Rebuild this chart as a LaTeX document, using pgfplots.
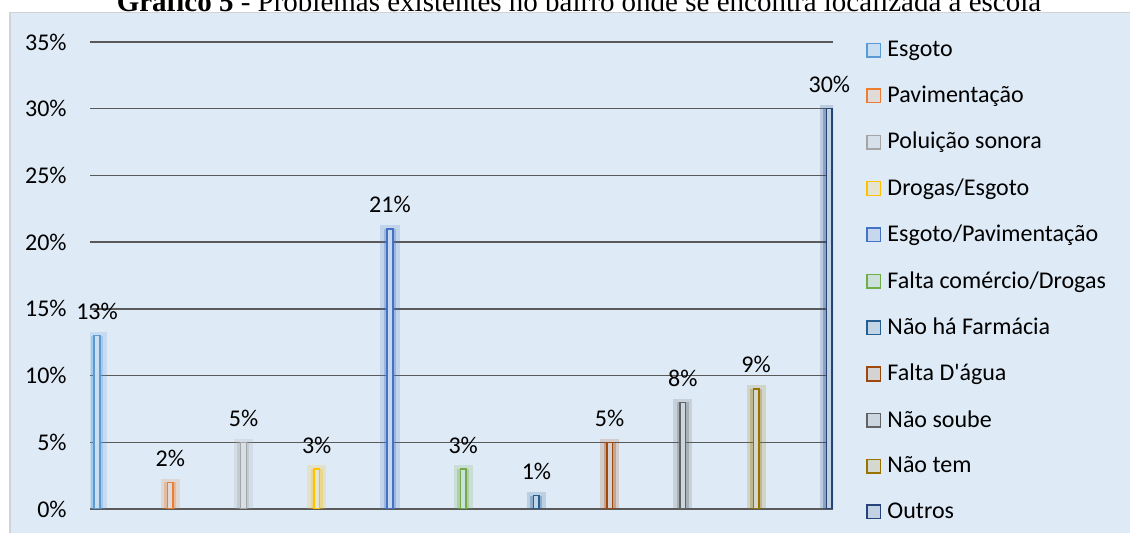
\documentclass[border=0pt]{standalone}
\usepackage{fontspec}
\setmainfont{Carlito}[Ligatures=TeXOff]
\newfontfamily\titlefont{Liberation Serif}
\usepackage{pgfplots}
\pgfplotsset{compat=1.18}

\definecolor{panel}{HTML}{DEEAF6}
\definecolor{panelborder}{HTML}{D0D4D9}
\definecolor{gridc}{HTML}{5A5A5A}
\definecolor{cA}{HTML}{5B9BD5}
\definecolor{cB}{HTML}{ED7D31}
\definecolor{cC}{HTML}{A5A5A5}
\definecolor{cD}{HTML}{FFC000}
\definecolor{cE}{HTML}{4472C4}
\definecolor{cF}{HTML}{70AD47}
\definecolor{cG}{HTML}{255E91}
\definecolor{cH}{HTML}{9E480E}
\definecolor{cI}{HTML}{636363}
\definecolor{cJ}{HTML}{997300}
\definecolor{cK}{HTML}{264478}

\pgfplotsset{
  barglow/.style={ybar, bar shift=0pt, bar width=6pt, fill opacity=0.3,
    draw opacity=0.18, line width=3.6pt, forget plot},
  barthin/.style={ybar, bar shift=0pt, bar width=2.8pt, line width=0.75pt,
    nodes near coords={\pgfmathprintnumber{\pgfplotspointmeta}\%},
    every node near coord/.append style={anchor=south, font=\fontsize{12}{14}\selectfont,
      text=black, inner sep=0pt, yshift=7.5pt},
    legend image code/.code={\draw[##1, line width=0.75pt]
      (0pt,-3.4pt) rectangle (6.8pt,3.4pt);}},
}

\begin{document}
\begin{tikzpicture}
% chart panel
\fill[panel] (-40pt,-20pt) rectangle (530pt,248.2pt);
\draw[panelborder, line width=0.8pt] (-40pt,-20pt) -- (-40pt,248.2pt) -- (530pt,248.2pt);
\node[anchor=base, font=\titlefont\fontsize{14.5}{16}\selectfont] at (244.5pt,248.9pt)
  {\textbf{Gráfico 5} - Problemas existentes no bairro onde se encontra localizada a escola};

\begin{axis}[
  at={(0pt,0pt)}, anchor=south west,
  scale only axis, width=371.5pt, height=233.5pt,
  xmin=-0.096, xmax=10.05, ymin=0, ymax=35,
  enlargelimits=false,
  xtick=\empty,
  ytick={0,5,...,35},
  yticklabel={\pgfmathprintnumber{\tick}\%},
  /pgf/number format/assume math mode=true,
  yticklabel style={font=\fontsize{12}{14}\selectfont, inner xsep=0pt, xshift=-11.5pt},
  ymajorgrids,
  major grid style={draw=gridc, line width=0.75pt},
  axis line style={draw=none},
  tick style={draw=none},
  legend style={at={(axis description cs:1.0444,1.003)}, anchor=north west,
    draw=none, fill=none, inner sep=0pt, row sep=13.35pt,
    font=\fontsize{12}{14}\selectfont,
    nodes={inner xsep=3pt, inner ysep=0pt}},
  legend cell align=left,
]
\addplot[barglow, fill=cA, draw=cA] coordinates {(0,13)};
\addplot[barglow, fill=cB, draw=cB] coordinates {(1,2)};
\addplot[barglow, fill=cC, draw=cC] coordinates {(2,5)};
\addplot[barglow, fill=cD, draw=cD] coordinates {(3,3)};
\addplot[barglow, fill=cE, draw=cE] coordinates {(4,21)};
\addplot[barglow, fill=cF, draw=cF] coordinates {(5,3)};
\addplot[barglow, fill=cG, draw=cG] coordinates {(6,1)};
\addplot[barglow, fill=cH, draw=cH] coordinates {(7,5)};
\addplot[barglow, fill=cI, draw=cI] coordinates {(8,8)};
\addplot[barglow, fill=cJ, draw=cJ] coordinates {(9,9)};
\addplot[barglow, fill=cK, draw=cK] coordinates {(10,30)};

\addplot[barthin, draw=cA, fill=cA!15!panel] coordinates {(0,13)};
\addplot[barthin, draw=cB, fill=cB!15!panel] coordinates {(1,2)};
\addplot[barthin, draw=cC, fill=cC!15!panel] coordinates {(2,5)};
\addplot[barthin, draw=cD, fill=cD!15!panel] coordinates {(3,3)};
\addplot[barthin, draw=cE, fill=cE!15!panel] coordinates {(4,21)};
\addplot[barthin, draw=cF, fill=cF!15!panel] coordinates {(5,3)};
\addplot[barthin, draw=cG, fill=cG!15!panel] coordinates {(6,1)};
\addplot[barthin, draw=cH, fill=cH!15!panel] coordinates {(7,5)};
\addplot[barthin, draw=cI, fill=cI!15!panel] coordinates {(8,8)};
\addplot[barthin, draw=cJ, fill=cJ!15!panel] coordinates {(9,9)};
\addplot[barthin, draw=cK, fill=cK!15!panel] coordinates {(10,30)};
\legend{Esgoto,Pavimentação,Poluição sonora,Drogas/Esgoto,Esgoto/Pavimentação,
  Falta comércio/Drogas,Não há Farmácia,Falta D'água,Não soube,Não tem,Outros}
\end{axis}

\pgfresetboundingbox
\path[use as bounding box] (-45pt,-12pt) rectangle (520pt,254.5pt);
\end{tikzpicture}
\end{document}
